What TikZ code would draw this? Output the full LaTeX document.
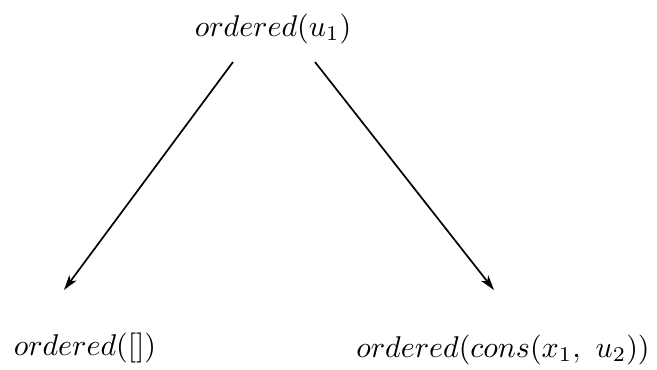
\documentclass[tikz,border=0pt]{standalone}
\usetikzlibrary{arrows.meta}
\begin{document}
\begin{tikzpicture}[x=1pt,y=-1pt,
  term/.style={anchor=base,inner sep=0pt,scale=3},
  edge/.style={line width=1.7pt,-{Stealth[length=15pt,width=9pt,inset=4pt]}}]
\useasboundingbox (0,0) rectangle (657,370);
\node[term] (top) at (273,36) {$ordered(u_1)$};
\node[term] (left) at (85,355) {$ordered([])$};
\node[term] (right) at (503,357) {$ordered(cons(x_1,\ u_2))$};
\coordinate (ls) at (233,62);
\coordinate (le) at (64,290);
\coordinate (rs) at (315,62);
\coordinate (re) at (494,290);
\draw[edge] (ls) -- (le);
\draw[edge] (rs) -- (re);
\end{tikzpicture}
\end{document}
